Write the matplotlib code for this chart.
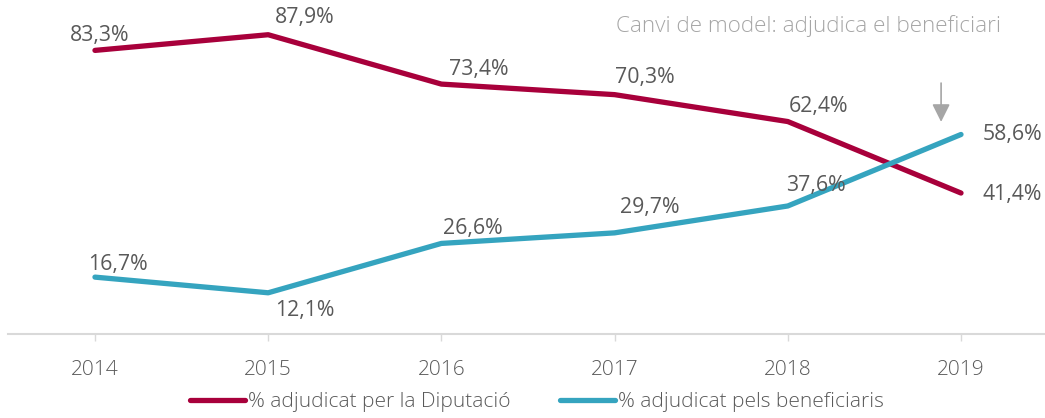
import matplotlib
matplotlib.use("Agg")
import matplotlib.pyplot as plt

years = ["2014", "2015", "2016", "2017", "2018", "2019"]
diputacio = [83.3, 87.9, 73.4, 70.3, 62.4, 41.4]
beneficiaris = [16.7, 12.1, 26.6, 29.7, 37.6, 58.6]
label_dip = "% adjudicat per la Diputació"
label_ben = "% adjudicat pels beneficiaris"
annotation = "Canvi de model: adjudica el beneficiari"

RED = "#A8003B"
BLUE = "#35A4BF"
TXT = "#595959"
GRAY = "#A6A6A6"

plt.rcParams["font.family"] = ["Open Sans", "DejaVu Sans"]

fig = plt.figure(figsize=(10.45, 4.18), dpi=100)
ax = fig.add_axes([0.008, 0.201, 0.9945, 0.799])
x = list(range(len(years)))
ax.plot(x, diputacio, color=RED, lw=3.8, solid_capstyle="round", label=label_dip)
ax.plot(x, beneficiaris, color=BLUE, lw=3.8, solid_capstyle="round", label=label_ben)
ax.set_xlim(-0.5, 5.5)
ax.set_ylim(0, 98.1)

def fmt(v):
    return f"{v:.1f}%".replace(".", ",")

# pixel offsets (dx, dy) of label centre from the point
off_dip = [(5, 15), (37, 17), (37, 15), (30, 17), (31, 15), (51, -1)]
off_ben = [(23, 13), (37, -18), (31, 15), (35, 25), (28, 20), (51, 0)]
for xi, v, o in zip(x, diputacio, off_dip):
    ax.annotate(fmt(v), (xi, v), xytext=(o[0] * 0.72, o[1] * 0.72), textcoords="offset points",
                ha="center", va="center", fontsize=15.3, color=TXT)
for xi, v, o in zip(x, beneficiaris, off_ben):
    ax.annotate(fmt(v), (xi, v), xytext=(o[0] * 0.72, o[1] * 0.72), textcoords="offset points",
                ha="center", va="center", fontsize=15.3, color=TXT)

ax.annotate("", xy=(4.885, 62.3), xytext=(4.885, 73.7),
            arrowprops=dict(arrowstyle="-|>,head_length=0.54,head_width=0.27", color=GRAY,
                            lw=1.2, mutation_scale=20, shrinkA=0, shrinkB=0))
ax.text(4.117, 90.6, annotation, ha="center", va="center", fontsize=16.2, color=GRAY,
        fontweight="light")

for s in ["top", "right", "left"]:
    ax.spines[s].set_visible(False)
ax.spines["bottom"].set_color("#D9D9D9")
ax.spines["bottom"].set_linewidth(1.5)
ax.set_yticks([])
ax.set_xticks(x)
ax.set_xticklabels(years, fontsize=15, color=TXT, fontweight="light")
ax.tick_params(axis="x", length=5, color="#D9D9D9", width=1, pad=14)

leg = fig.legend(loc="center", bbox_to_anchor=(0.514, 0.038), ncol=2, frameon=False,
                 prop={"size": 15, "weight": "light"}, handlelength=2.64,
                 handletextpad=0.15, columnspacing=2.35)
for t in leg.get_texts():
    t.set_color(TXT)

fig.savefig("out.png", dpi=100)
